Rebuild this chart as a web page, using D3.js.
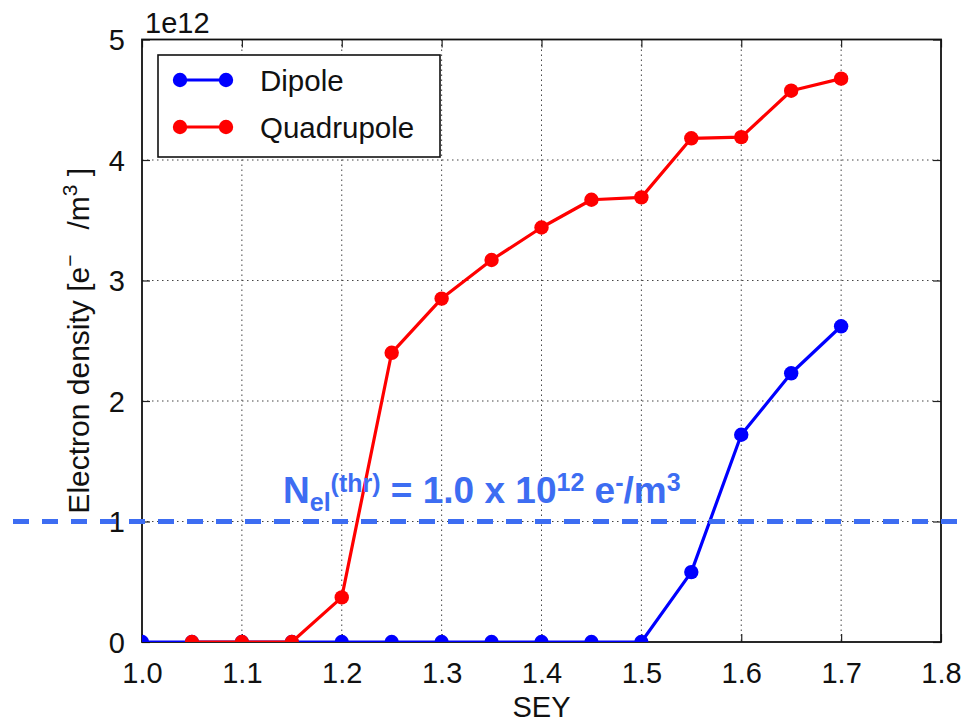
<!DOCTYPE html>
<html>
<head>
<meta charset="utf-8">
<script src="https://cdn.jsdelivr.net/npm/d3@7/dist/d3.min.js"></script>
<style>
  html, body { margin: 0; padding: 0; background: #fff; }
  svg { display: block; font-family: "Liberation Sans", Arial, Helvetica, sans-serif; }
</style>
</head>
<body>
<svg id="chart" width="967" height="724"></svg>
<script>
// Electron density (units of 1e12 e-/m^3) versus secondary electron yield
const dipoleSey = [1.0, 1.05, 1.1, 1.15, 1.2, 1.25, 1.3, 1.35, 1.4, 1.45, 1.5, 1.55, 1.6, 1.65, 1.7];
const dipoleDensity = [0, 0, 0, 0, 0, 0, 0, 0, 0, 0, 0, 0.58, 1.72, 2.23, 2.62];
const quadSey = [1.05, 1.1, 1.15, 1.2, 1.25, 1.3, 1.35, 1.4, 1.45, 1.5, 1.55, 1.6, 1.65, 1.7];
const quadDensity = [0, 0, 0, 0.37, 2.40, 2.85, 3.17, 3.44, 3.67, 3.69, 4.18, 4.19, 4.575, 4.675];
const xTicks = [1.0, 1.1, 1.2, 1.3, 1.4, 1.5, 1.6, 1.7, 1.8];
const yTicks = [0, 1, 2, 3, 4, 5];
const threshold = 1.0;
const seriesNames = ["Dipole", "Quadrupole"];
const seriesColors = ["#0000ff", "#ff0000"];

const W = 967, H = 724;
const plot = { left: 142, right: 941, top: 39.5, bottom: 642 };
const svg = d3.select("#chart");

const x = d3.scaleLinear().domain([1.0, 1.8]).range([plot.left, plot.right]);
const y = d3.scaleLinear().domain([0, 5]).range([plot.bottom, plot.top]);

const defs = svg.append("defs");
defs.append("clipPath").attr("id", "plotClip")
  .append("rect")
  .attr("x", plot.left).attr("y", plot.top)
  .attr("width", plot.right - plot.left).attr("height", plot.bottom - plot.top);
const glow = defs.append("filter").attr("id", "glow")
  .attr("x", "-5%").attr("y", "-300%").attr("width", "110%").attr("height", "700%");
glow.append("feGaussianBlur").attr("stdDeviation", 3);

// dotted grid
const grid = svg.append("g");
grid.selectAll("line.gx").data(xTicks.slice(1, -1)).join("line")
  .attr("x1", d => x(d)).attr("x2", d => x(d))
  .attr("y1", plot.top).attr("y2", plot.bottom)
  .attr("stroke", "#444").attr("stroke-width", 1).attr("stroke-dasharray", "1.5,3.5");
grid.selectAll("line.gy").data(yTicks.slice(1, -1)).join("line")
  .attr("y1", d => y(d)).attr("y2", d => y(d))
  .attr("x1", plot.left).attr("x2", plot.right)
  .attr("stroke", "#444").attr("stroke-width", 1).attr("stroke-dasharray", "1.5,3.5");

// axes with inward ticks on all four sides
const tickLen = 8;
const axisFont = 29;
const gxB = svg.append("g").attr("transform", `translate(0,${plot.bottom})`)
  .call(d3.axisBottom(x).tickValues(xTicks).tickFormat(d3.format(".1f")).tickSizeInner(-tickLen).tickSizeOuter(0).tickPadding(0));
const gxT = svg.append("g").attr("transform", `translate(0,${plot.top})`)
  .call(d3.axisTop(x).tickValues(xTicks).tickFormat("").tickSizeInner(-tickLen).tickSizeOuter(0));
const gyL = svg.append("g").attr("transform", `translate(${plot.left},0)`)
  .call(d3.axisLeft(y).tickValues(yTicks).tickFormat(d3.format("d")).tickSizeInner(-tickLen).tickSizeOuter(0));
const gyR = svg.append("g").attr("transform", `translate(${plot.right},0)`)
  .call(d3.axisRight(y).tickValues(yTicks).tickFormat("").tickSizeInner(-tickLen).tickSizeOuter(0));
[gxB, gxT, gyL, gyR].forEach(g => {
  g.select(".domain").remove();
  g.selectAll(".tick line").attr("stroke", "#222").attr("stroke-width", 1.2);
});
gxB.selectAll(".tick text")
  .attr("font-size", axisFont).attr("fill", "#111")
  .attr("y", 41).attr("dy", 0);
gyL.selectAll(".tick text")
  .attr("font-size", axisFont).attr("fill", "#111")
  .attr("x", -17).attr("dy", "0.36em");

// frame
svg.append("rect")
  .attr("x", plot.left).attr("y", plot.top)
  .attr("width", plot.right - plot.left).attr("height", plot.bottom - plot.top)
  .attr("fill", "none").attr("stroke", "#111").attr("stroke-width", 1.8);

// offset exponent
svg.append("text").attr("x", plot.left + 3).attr("y", 33)
  .attr("font-size", axisFont).attr("fill", "#111").text("1e12");

// axis titles
svg.append("text")
  .attr("x", (plot.left + plot.right) / 2).attr("y", 717)
  .attr("text-anchor", "middle").attr("font-size", axisFont).attr("fill", "#111")
  .text("SEY");
const yl = svg.append("text")
  .attr("transform", `translate(89,${(plot.top + plot.bottom) / 2}) rotate(-90)`)
  .attr("text-anchor", "middle").attr("font-size", 30).attr("fill", "#111")
  .attr("xml:space", "preserve");
yl.append("tspan").text("Electron density [e");
yl.append("tspan").attr("font-size", 21).attr("dy", -12).text("\u2212");
yl.append("tspan").attr("dy", 12).text("   /m");
yl.append("tspan").attr("font-size", 21).attr("dy", -12).text("3");
yl.append("tspan").attr("dy", 12).text(" ]");

// data series
const series = [
  { name: seriesNames[0], color: seriesColors[0], xs: dipoleSey, ys: dipoleDensity },
  { name: seriesNames[1], color: seriesColors[1], xs: quadSey, ys: quadDensity }
];
const line = d3.line().x(d => x(d[0])).y(d => y(d[1]));
const dataLayer = svg.append("g").attr("clip-path", "url(#plotClip)");
series.forEach(s => {
  const pts = s.xs.map((v, i) => [v, s.ys[i]]);
  const g = dataLayer.append("g");
  g.append("path").datum(pts).attr("d", line)
    .attr("fill", "none").attr("stroke", s.color).attr("stroke-width", 3.2)
    .attr("stroke-linejoin", "round");
  g.selectAll("circle").data(pts).join("circle")
    .attr("cx", d => x(d[0])).attr("cy", d => y(d[1])).attr("r", 7.2)
    .attr("fill", s.color);
});

// legend
const lg = svg.append("g");
lg.append("rect").attr("x", 158).attr("y", 55).attr("width", 282).attr("height", 102)
  .attr("fill", "#fff").attr("stroke", "#111").attr("stroke-width", 1.6);
series.forEach((s, i) => {
  const cy = 80 + i * 47;
  lg.append("line").attr("x1", 180).attr("x2", 226).attr("y1", cy).attr("y2", cy)
    .attr("stroke", s.color).attr("stroke-width", 3.2);
  lg.selectAll(null).data([180, 226]).join("circle")
    .attr("cx", d => d).attr("cy", cy).attr("r", 7.2).attr("fill", s.color);
  lg.append("text").attr("x", 260).attr("y", cy + 10.5)
    .attr("font-size", 29.5).attr("fill", "#111").text(s.name);
});

// threshold line across the full width
const thrColor = "#3d6df2";
const ty = y(threshold);
svg.append("line").attr("x1", 0).attr("x2", W).attr("y1", ty).attr("y2", ty)
  .attr("stroke", "#9a9a9a").attr("stroke-width", 9).attr("opacity", 0.35)
  .attr("filter", "url(#glow)");
svg.append("line").attr("x1", 0).attr("x2", W).attr("y1", ty).attr("y2", ty)
  .attr("stroke", thrColor).attr("stroke-width", 5)
  .attr("stroke-dasharray", "16,13").attr("stroke-dashoffset", 16);

// threshold annotation
const ann = svg.append("text").attr("x", 283).attr("y", 503)
  .attr("font-size", 37).attr("font-weight", "bold").attr("fill", thrColor);
ann.append("tspan").text("N");
ann.append("tspan").attr("font-size", 25).attr("dy", 8).text("el");
ann.append("tspan").attr("font-size", 25).attr("dy", -19).text("(thr)");
ann.append("tspan").attr("dy", 11).text(" = 1.0 x 10");
ann.append("tspan").attr("font-size", 25).attr("dy", -12).text("12");
ann.append("tspan").attr("dy", 12).text(" e");
ann.append("tspan").attr("font-size", 25).attr("dy", -12).text("-");
ann.append("tspan").attr("dy", 12).text("/m");
ann.append("tspan").attr("font-size", 25).attr("dy", -12).text("3");
</script>
</body>
</html>
